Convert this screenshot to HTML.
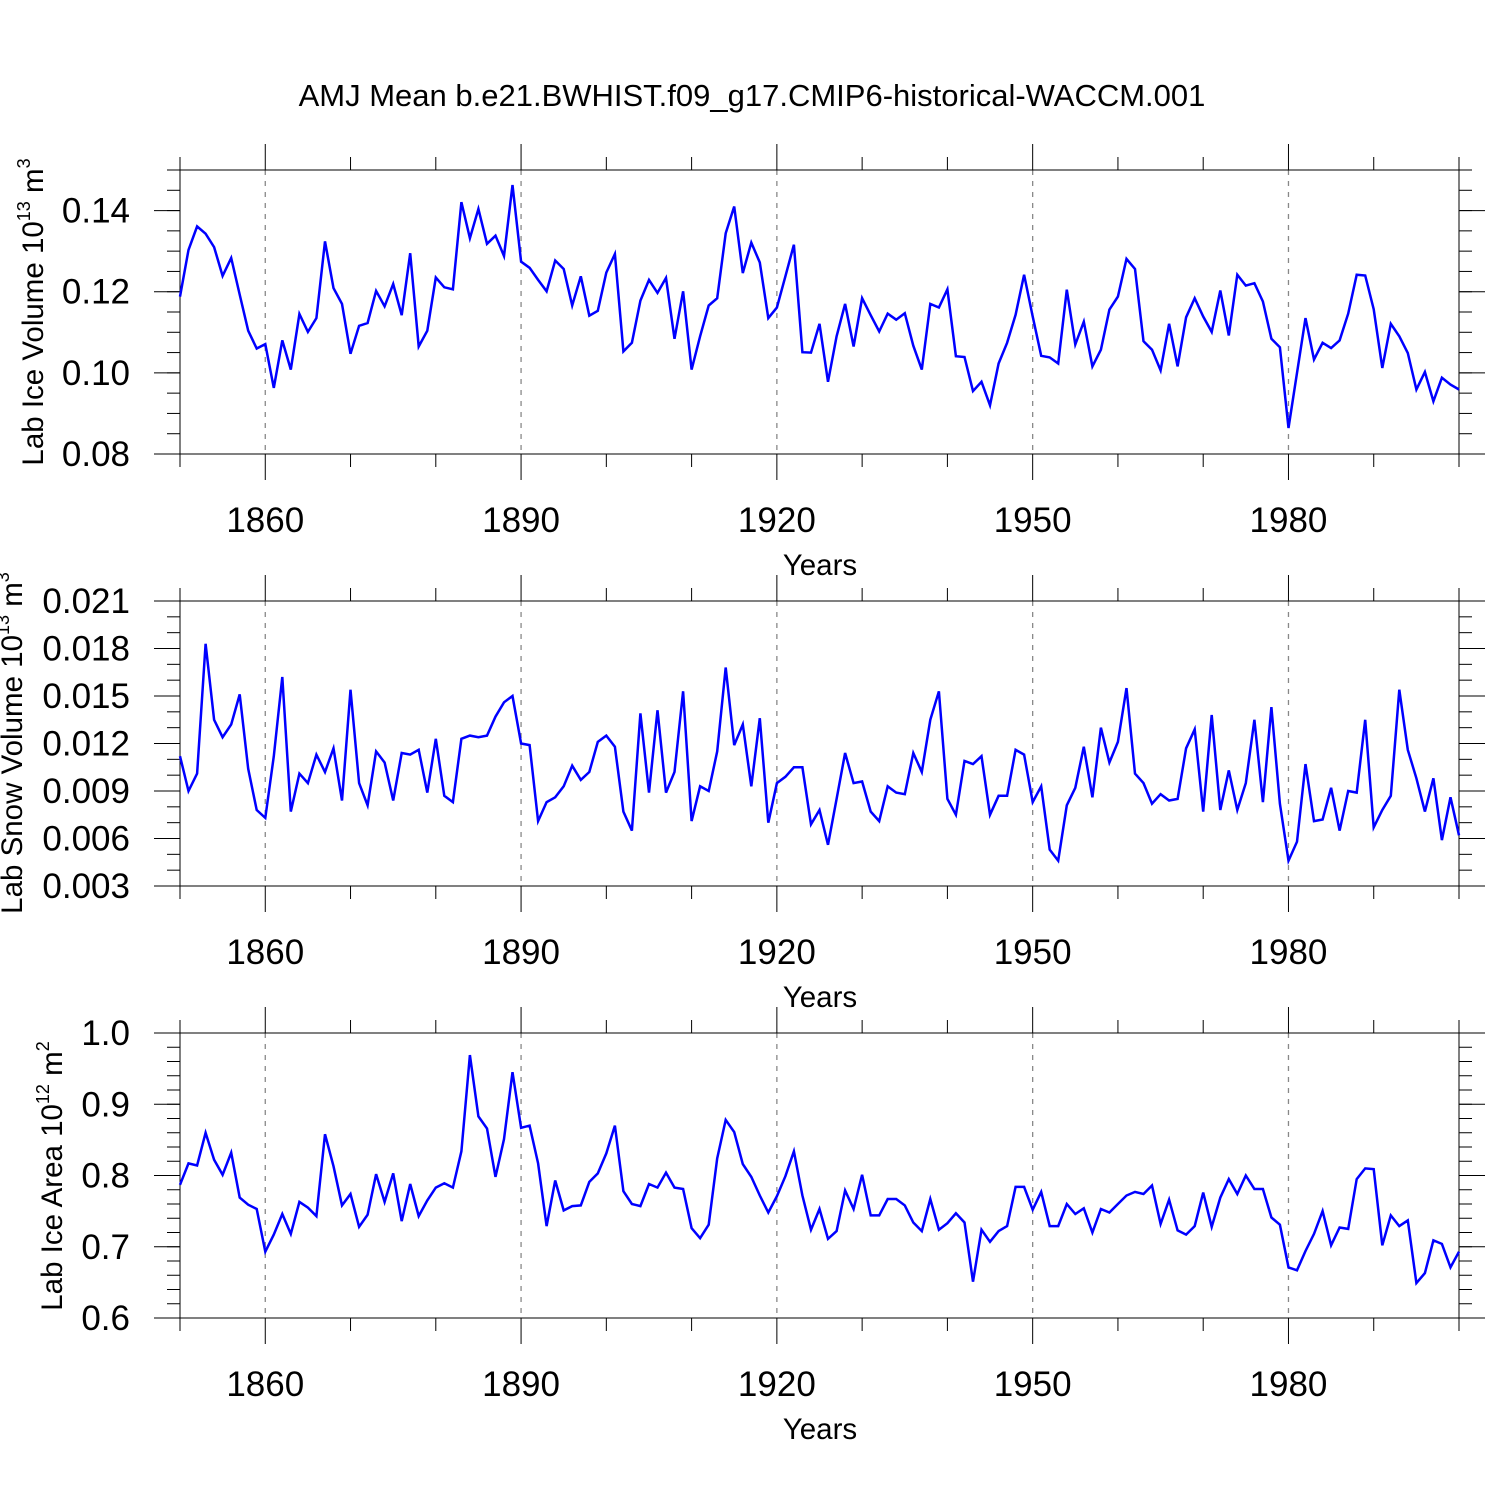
<!DOCTYPE html>
<html><head><meta charset="utf-8"><style>
html,body{margin:0;padding:0;background:#fff;}
svg{display:block;font-family:"Liberation Sans",sans-serif;}
</style></head><body>
<svg id="chart" width="1500" height="1500" viewBox="0 0 1500 1500" xmlns="http://www.w3.org/2000/svg">
<rect x="0" y="0" width="1500" height="1500" fill="#fff"/>
<text x="752" y="106" font-size="31" text-anchor="middle">AMJ Mean b.e21.BWHIST.f09_g17.CMIP6-historical-WACCM.001</text>
</svg>
<script>
const years = [];
for (let y = 1850; y <= 2000; y++) years.push(y);
const xTickYears = [1860, 1890, 1920, 1950, 1980];
const iceVolume = [0.1188,0.1303,0.1361,0.1343,0.131,0.1239,0.1283,0.1193,0.1104,0.106,
0.1071,0.0963,0.108,0.1008,0.1145,0.1101,0.1135,0.1324,0.1209,0.117,
0.1047,0.1116,0.1123,0.1202,0.1164,0.1219,0.1142,0.1295,0.1065,0.1104,
0.1235,0.1211,0.1206,0.1421,0.1332,0.1404,0.1318,0.1338,0.1288,0.1463,
0.1274,0.1259,0.1229,0.1201,0.1277,0.1256,0.1166,0.1238,0.1141,0.1153,
0.1247,0.1293,0.1053,0.1074,0.1178,0.1229,0.1197,0.1234,0.1084,0.1201,
0.1008,0.109,0.1166,0.1184,0.1344,0.141,0.1246,0.1321,0.1272,0.1135,
0.1161,0.1238,0.1316,0.1051,0.105,0.1121,0.0978,0.109,0.117,0.1065,
0.1184,0.1142,0.1102,0.1146,0.1131,0.1147,0.1067,0.1008,0.117,0.1161,
0.1206,0.1041,0.1039,0.0955,0.0978,0.092,0.1023,0.1074,0.1143,0.1242,
0.1139,0.1042,0.1038,0.1023,0.1205,0.107,0.1126,0.1016,0.1057,0.1156,
0.1188,0.1281,0.1256,0.1078,0.1057,0.1006,0.1121,0.1016,0.1137,0.1184,
0.1139,0.1101,0.1203,0.1092,0.1242,0.1215,0.1221,0.1176,0.1084,0.1063,
0.0864,0.1,0.1135,0.1033,0.1074,0.1061,0.108,0.1146,0.1242,0.124,
0.1157,0.1012,0.1121,0.109,0.1049,0.0959,0.1002,0.093,0.0988,0.0971,0.0959];
const snowVolume = [0.0112,0.009,0.0101,0.0183,0.0135,0.0124,0.0132,0.0151,0.0104,0.0078,
0.0073,0.0112,0.0162,0.0077,0.0101,0.0095,0.0113,0.0102,0.0117,0.0084,
0.0154,0.0095,0.0081,0.0115,0.0108,0.0084,0.0114,0.0113,0.0116,0.0089,
0.0123,0.0087,0.0083,0.0123,0.0125,0.0124,0.0125,0.0137,0.0146,0.015,
0.012,0.0119,0.0071,0.0083,0.0086,0.0093,0.0106,0.0097,0.0102,0.0121,
0.0125,0.0118,0.0077,0.0065,0.0139,0.0089,0.0141,0.0089,0.0102,0.0153,
0.0071,0.0093,0.009,0.0115,0.0168,0.0119,0.0132,0.0093,0.0136,0.007,
0.0095,0.0099,0.0105,0.0105,0.0069,0.0078,0.0056,0.0085,0.0114,0.0095,
0.0096,0.0077,0.0071,0.0093,0.0089,0.0088,0.0114,0.0102,0.0135,0.0153,
0.0085,0.0075,0.0109,0.0107,0.0112,0.0075,0.0087,0.0087,0.0116,0.0113,
0.0083,0.0093,0.0053,0.0046,0.0081,0.0092,0.0118,0.0086,0.013,0.0108,
0.0121,0.0155,0.0101,0.0095,0.0082,0.0088,0.0084,0.0085,0.0117,0.0129,
0.0077,0.0138,0.0078,0.0103,0.0078,0.0095,0.0135,0.0083,0.0143,0.0082,
0.0046,0.0058,0.0107,0.0071,0.0072,0.0092,0.0065,0.009,0.0089,0.0135,
0.0067,0.0078,0.0087,0.0154,0.0116,0.0098,0.0077,0.0098,0.0059,0.0086,0.0062];
const iceArea = [0.787,0.817,0.814,0.86,0.822,0.801,0.832,0.769,0.759,0.753,
0.693,0.717,0.746,0.718,0.763,0.755,0.743,0.858,0.813,0.758,
0.774,0.728,0.745,0.802,0.763,0.803,0.736,0.788,0.743,0.765,
0.783,0.789,0.783,0.834,0.969,0.883,0.866,0.798,0.851,0.945,
0.867,0.87,0.817,0.729,0.793,0.751,0.757,0.758,0.791,0.803,
0.831,0.87,0.778,0.76,0.757,0.788,0.783,0.804,0.783,0.781,
0.726,0.712,0.731,0.824,0.878,0.861,0.816,0.798,0.772,0.748,
0.771,0.799,0.834,0.772,0.724,0.753,0.711,0.722,0.779,0.753,
0.801,0.744,0.744,0.767,0.767,0.758,0.734,0.722,0.767,0.724,
0.733,0.747,0.734,0.651,0.724,0.707,0.722,0.729,0.784,0.784,
0.752,0.777,0.729,0.729,0.76,0.746,0.754,0.72,0.753,0.748,
0.76,0.772,0.777,0.774,0.786,0.732,0.766,0.723,0.717,0.729,
0.776,0.728,0.769,0.795,0.774,0.8,0.781,0.781,0.741,0.731,
0.671,0.667,0.694,0.718,0.75,0.702,0.727,0.725,0.795,0.81,
0.809,0.702,0.744,0.729,0.737,0.649,0.663,0.709,0.704,0.671,0.693];
const iceVolTicks = ["0.08","0.10","0.12","0.14"];
const snowTicks = ["0.003","0.006","0.009","0.012","0.015","0.018","0.021"];
const areaTicks = ["0.6","0.7","0.8","0.9","1.0"];

const NS = "http://www.w3.org/2000/svg";
const svg = document.getElementById('chart');
const X0 = 180, X1 = 1459, YR0 = 1850, YR1 = 2000;
function xs(yr){ return X0 + (yr - YR0) * (X1 - X0) / (YR1 - YR0); }
function mk(tag, attrs, parent){
  const e = document.createElementNS(NS, tag);
  for (const k in attrs) e.setAttribute(k, attrs[k]);
  (parent || svg).appendChild(e);
  return e;
}
function panel(cfg){
  const g = mk('g', {});
  
  
  const top = cfg.top, bot = cfg.bot;
  const ys = v => bot - (v - cfg.min) * (bot - top) / (cfg.max - cfg.min);
  xTickYears.forEach(yr => {
    const l = mk('line', {x1: xs(yr), x2: xs(yr), y1: top, y2: bot, stroke: '#888', 'stroke-width': 1.3, 'stroke-dasharray': '5,6'}, g);
    
    
  });
  for (let yr = 1850; yr <= 2000; yr += 10) {
    const major = xTickYears.includes(yr);
    const len = major ? 26 : 13;
    mk('line', {x1: xs(yr), x2: xs(yr), y1: bot, y2: bot + len, stroke: '#000', 'stroke-width': 1}, g);
    mk('line', {x1: xs(yr), x2: xs(yr), y1: top, y2: top - len, stroke: '#000', 'stroke-width': 1}, g);
  }
  for (let v = cfg.min; v <= cfg.max + 1e-9; v += cfg.minor) {
    const y = ys(v);
    mk('line', {x1: X0 - 13, x2: X0, y1: y, y2: y, stroke: '#000', 'stroke-width': 1}, g);
    mk('line', {x1: X1, x2: X1 + 13, y1: y, y2: y, stroke: '#000', 'stroke-width': 1}, g);
  }
  cfg.ticks.forEach(t => {
    const y = ys(parseFloat(t));
    mk('line', {x1: X0 - 26, x2: X0, y1: y, y2: y, stroke: '#000', 'stroke-width': 1}, g);
    mk('line', {x1: X1, x2: X1 + 26, y1: y, y2: y, stroke: '#000', 'stroke-width': 1}, g);
    const tx = mk('text', {x: 130, y: y + 12, 'font-size': 35, 'text-anchor': 'end'}, g);
    tx.textContent = t;
    
    
  });
  xTickYears.forEach(yr => {
    const tx = mk('text', {x: xs(yr), y: bot + 78, 'font-size': 35, 'text-anchor': 'middle'}, g);
    tx.textContent = yr;
    
    
  });
  const xt = mk('text', {x: 820, y: bot + 121, 'font-size': 29.5, 'text-anchor': 'middle'}, g);
  xt.textContent = 'Years';
  
  
  const yt = mk('text', {transform: 'translate(' + cfg.tx + ',' + cfg.ty + ') rotate(-90)', 'font-size': 29.5, 'text-anchor': 'middle'}, g);
  
  
  yt.innerHTML = cfg.label + ' 10<tspan dy="-13" font-size="18">' + cfg.exp + '</tspan><tspan dy="13"> m</tspan><tspan dy="-13" font-size="18">' + cfg.unitExp + '</tspan>';
  const fr = mk('rect', {x: X0, y: top, width: X1 - X0, height: bot - top, fill: 'none', stroke: '#000', 'stroke-width': 1}, g);
  
  
  const pts = cfg.data.map((v, i) => xs(years[i]).toFixed(1) + ',' + ys(v).toFixed(1)).join(' ');
  const pl = mk('polyline', {points: pts, fill: 'none', stroke: '#0000ff', 'stroke-width': 2.5, 'stroke-linejoin': 'miter'}, g);
  
  
}
panel({name: 'ice-volume-panel', top: 170, bot: 454, min: 0.08, max: 0.15, minor: 0.005, ticks: iceVolTicks, data: iceVolume, label: 'Lab Ice Volume', exp: '13', unitExp: '3', tx: 43, ty: 312});
panel({name: 'snow-volume-panel', top: 601, bot: 886, min: 0.003, max: 0.021, minor: 0.001, ticks: snowTicks, data: snowVolume, label: 'Lab Snow Volume', exp: '13', unitExp: '3', tx: 22, ty: 743});
panel({name: 'ice-area-panel', top: 1033, bot: 1318, min: 0.6, max: 1.0, minor: 0.02, ticks: areaTicks, data: iceArea, label: 'Lab Ice Area', exp: '12', unitExp: '2', tx: 62, ty: 1176});
</script>
</body></html>
